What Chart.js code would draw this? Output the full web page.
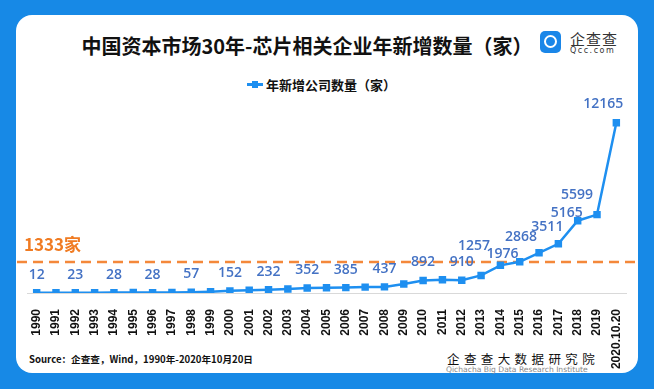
<!DOCTYPE html>
<html lang="zh">
<head>
    <meta charset="UTF-8">
    <title>芯片相关企业年新增数量</title>
    <script src="https://cdn.jsdelivr.net/npm/chart.js"></script>
    <style>
        html, body { margin: 0; padding: 0; }
        body {
            width: 654px; height: 389px; position: relative; overflow: hidden;
            background: #1789e6;
            font-family: 'Noto Sans CJK SC', 'Noto Sans', sans-serif;
        }
        .card {
            position: absolute; left: 16px; top: 15px; width: 622px; height: 358px;
            background: #fff; border-radius: 16px;
        }
        .title {
            position: absolute; left: 0; top: 32px; width: 614px; text-align: center;
            font-size: 20px; font-weight: bold; color: #111; line-height: 28px;
        }
        .logo { position: absolute; left: 540px; top: 31px; }
        .logo .icon {
            position: absolute; left: 0; top: 0; width: 21px; height: 22px;
            background: #1a86e8; border-radius: 5px;
        }
        .logo .icon::after {
            content: ''; position: absolute; left: 4px; top: 4px; width: 9px; height: 9px;
            border: 2.5px solid #fff; border-radius: 50%;
        }
        .logo .cn { position: absolute; left: 30px; top: -3px; font-size: 15px; color: #333; letter-spacing: 1px; white-space: nowrap; }
        .logo .en { position: absolute; left: 30px; top: 15px; font-size: 8px; color: #333; letter-spacing: 1.5px; font-family: 'DejaVu Sans', sans-serif; white-space: nowrap; }
        .legend {
            position: absolute; left: 247px; top: 75px; font-size: 13px; font-weight: bold; color: #111;
            white-space: nowrap;
        }
        .legend .mark { display: inline-block; position: relative; width: 16px; height: 3px; background: #1e8ff0; vertical-align: middle; margin-right: 3px; top: -2px; }
        .legend .mark::after { content: ''; position: absolute; left: 5px; top: -2px; width: 6px; height: 7px; background: #1e8ff0; }
        .source { position: absolute; left: 29px; top: 352px; font-size: 9.6px; font-weight: bold; color: #111; white-space: nowrap; }
        .inst { position: absolute; left: 447px; top: 349px; font-size: 12.5px; color: #111; letter-spacing: 4.4px; white-space: nowrap; }
        .inst-en { position: absolute; left: 446px; top: 365px; font-size: 7.6px; color: #888; white-space: nowrap; font-family: 'DejaVu Sans', sans-serif; }
        canvas { position: absolute; left: 0; top: 0; }
    </style>
</head>
<body>
    <div class="card"></div>
    <div class="title">中国资本市场30年-芯片相关企业年新增数量（家）</div>
    <div class="logo">
        <div class="icon"></div>
        <div class="cn">企查查</div>
        <div class="en">Qcc.com</div>
    </div>
    <div class="legend"><span class="mark"></span>年新增公司数量（家）</div>
    <div class="source">Source：企查查，Wind，1990年-2020年10月20日</div>
    <div class="inst">企查查大数据研究院</div>
    <div class="inst-en">Qichacha Big Data Research Institute</div>

    <canvas id="chipChart" width="654" height="389"></canvas>

    <script>
        // 年份
        const years = ['1990', '1991', '1992', '1993', '1994', '1995', '1996', '1997', '1998', '1999',
            '2000', '2001', '2002', '2003', '2004', '2005', '2006', '2007', '2008', '2009',
            '2010', '2011', '2012', '2013', '2014', '2015', '2016', '2017', '2018', '2019', '2020.10.20'];

        // 年新增公司数量（家） - unlabeled years
        const newCompanies = [12, 15, 23, 25, 28, 30, 28, 40, 57, 90,
            152, 200, 232, 290, 352, 370, 385, 420, 437, 640,
            892, 940, 910, 1257, 1976, 2230, 2868, 3511, 5165, 5599, 12165];

        // years that carry a value label
        const labeledYears = ['1990', '1992', '1994', '1996', '1998', '2000', '2002', '2004', '2006',
            '2008', '2010', '2012', '2013', '2014', '2016', '2017', '2018', '2019', '2020.10.20'];

        // 平均线
        const avgValue = 1333;
        const avgDrawAt = 2220; // height where the reference draws the dashed line

        // label nudges (layout only)
        const labelNudge = {
            '2013': [-7, -11], '2014': [2, 7], '2016': [-18, 2], '2017': [-11, 1],
            '2018': [-11, 10], '2019': [-20, -2], '2020.10.20': [-13, -1]
        };

        const extras = {
            id: 'extras',
            beforeDatasetsDraw(chart) {
                const ctx = chart.ctx;
                const y = chart.scales.y.getPixelForValue(avgDrawAt);
                ctx.save();
                ctx.strokeStyle = '#f4883a';
                ctx.lineWidth = 2.5;
                ctx.setLineDash([10, 6]);
                ctx.beginPath();
                ctx.moveTo(17, y);
                ctx.lineTo(638, y);
                ctx.stroke();
                ctx.fillStyle = '#f07b22';
                ctx.font = "bold 17px 'Noto Sans CJK SC', sans-serif";
                ctx.textBaseline = 'middle';
                ctx.fillText(avgValue + '家', 24, y - 17);
                ctx.restore();
            },
            afterDatasetsDraw(chart) {
                const ctx = chart.ctx;
                const meta = chart.getDatasetMeta(0);
                ctx.save();
                ctx.fillStyle = '#4472c4';
                ctx.font = "600 14px 'Open Sans', sans-serif";
                ctx.textAlign = 'center';
                ctx.textBaseline = 'middle';
                years.forEach((yr, i) => {
                    if (!labeledYears.includes(yr)) return;
                    const pt = meta.data[i];
                    const nudge = labelNudge[yr] || [0, 0];
                    ctx.fillText(String(newCompanies[i]), pt.x + nudge[0], pt.y - 18 + nudge[1]);
                });
                ctx.restore();
            }
        };

        const ctx = document.getElementById('chipChart').getContext('2d');
        new Chart(ctx, {
            type: 'line',
            data: {
                labels: years,
                datasets: [{
                    label: '年新增公司数量（家）',
                    data: newCompanies,
                    borderColor: '#1e8ff0',
                    backgroundColor: '#1e8ff0',
                    borderWidth: 2.5,
                    pointStyle: 'rect',
                    pointRadius: 3.5,
                    tension: 0
                }]
            },
            options: {
                responsive: false,
                animation: false,
                layout: { padding: { left: 27, right: 28, top: 97, bottom: 16 } },
                plugins: {
                    legend: { display: false },
                    tooltip: { enabled: false }
                },
                scales: {
                    x: {
                        offset: true,
                        grid: { display: false },
                        border: { display: true, color: '#d9d9d9', width: 1 },
                        ticks: {
                            minRotation: 90, maxRotation: 90, autoSkip: false,
                            padding: 8,
                            color: '#111',
                            font: { family: "'Liberation Sans', sans-serif", size: 12, weight: 'bold' }
                        },
                        afterFit: (scale) => { scale.height = 80; }
                    },
                    y: {
                        display: false,
                        min: 0,
                        max: 14000
                    }
                }
            },
            plugins: [extras]
        });
    </script>
</body>
</html>
